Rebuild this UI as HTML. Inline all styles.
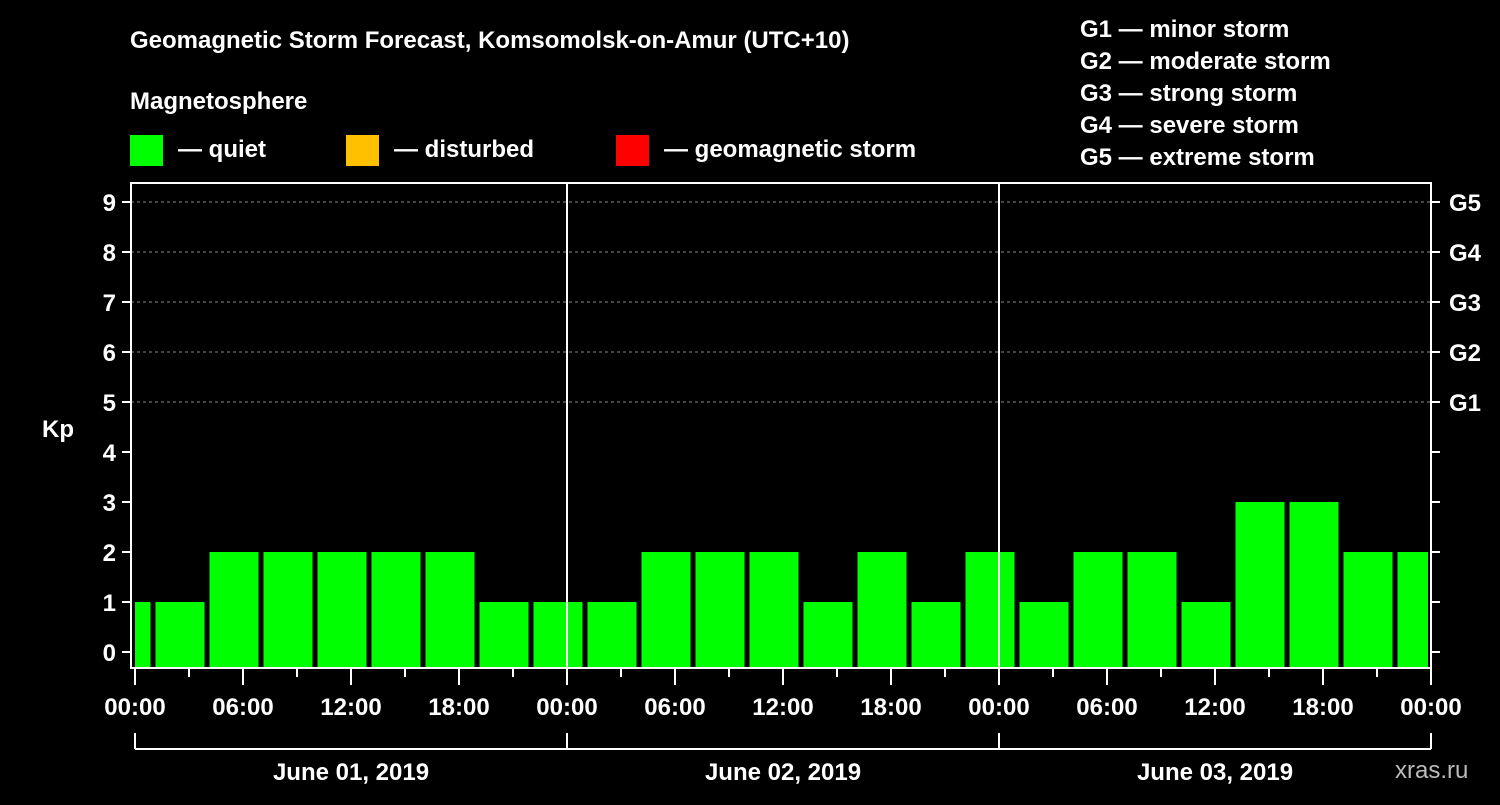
<!DOCTYPE html>
<html><head><meta charset="utf-8"><style>
body{margin:0;background:#000;width:1500px;height:800px;overflow:hidden}
svg text{font-family:"Liberation Sans",Arial,sans-serif;font-weight:bold;fill:#fff}
</style></head><body>
<svg id="c" width="1500" height="800" xmlns="http://www.w3.org/2000/svg">
<text x="130" y="48" font-size="24">Geomagnetic Storm Forecast, Komsomolsk-on-Amur (UTC+10)</text>
<text x="130" y="109" font-size="24">Magnetosphere</text>
<rect x="130" y="135" width="33" height="31" fill="#00ff00"/>
<text x="178" y="157" font-size="24">— quiet</text>
<rect x="346" y="135" width="33" height="31" fill="#ffc000"/>
<text x="394" y="157" font-size="24">— disturbed</text>
<rect x="616" y="135" width="33" height="31" fill="#ff0000"/>
<text x="664" y="157" font-size="24">— geomagnetic storm</text>
<g font-size="24">
<text x="1080" y="37">G1 — minor storm</text>
<text x="1080" y="69">G2 — moderate storm</text>
<text x="1080" y="101">G3 — strong storm</text>
<text x="1080" y="133">G4 — severe storm</text>
<text x="1080" y="165">G5 — extreme storm</text>
</g>
<text x="42" y="437" font-size="24">Kp</text>
<text x="1395" y="778" font-size="24" fill="#bbb" style="fill:#bbb;font-weight:normal">xras.ru</text>
<g id="plot"></g>
</svg>
<script>
const values=[1,1,2,2,2,2,2,1,1,1,2,2,2,1,2,1,2,1,2,2,1,3,3,2,2];
const barStartHour=-2, barHours=3, totalHours=72;
const yTicks=[0,1,2,3,4,5,6,7,8,9];
const gLabels=["G1","G2","G3","G4","G5"];
const gLevels=[5,6,7,8,9];
const xLabels=["00:00","06:00","12:00","18:00","00:00","06:00","12:00","18:00","00:00","06:00","12:00","18:00","00:00"];
const dayLabels=["June 01, 2019","June 02, 2019","June 03, 2019"];
const L=131,R=1431,T=183,B=668,X0=135;
const xs=h=>X0+h*18;
const ys=v=>652-v*50;
const NS="http://www.w3.org/2000/svg";
const g=document.getElementById('plot');
function mk(t,a){const e=document.createElementNS(NS,t);for(const k in a)e.setAttribute(k,a[k]);g.appendChild(e);return e;}
// grid
gLevels.forEach(v=>{const e=mk('line',{x1:L,x2:R,y1:ys(v),y2:ys(v),stroke:'#888','stroke-dasharray':'3,3','stroke-width':1});

});
// bars
values.forEach((v,i)=>{let s=barStartHour+i*barHours,e2=s+barHours;
let x1=Math.max(xs(s)+2.5,L+4),x2=Math.min(xs(e2)-2.5,R-3);
const r=mk('rect',{x:x1,y:ys(v),width:x2-x1,height:B-ys(v),fill:v>=5?'#ff0000':(v>=4?'#ffc000':'#00ff00')});

});
// day separators
[1,2].forEach(d=>{const e=mk('line',{x1:xs(d*24),x2:xs(d*24),y1:T,y2:B,stroke:'#fff','stroke-width':2});

});
// frame
const f=mk('rect',{x:L,y:T,width:R-L,height:B-T,fill:'none',stroke:'#fff','stroke-width':2});


// y ticks
yTicks.forEach(v=>{mk('line',{x1:L-9,x2:L,y1:ys(v),y2:ys(v),stroke:'#fff','stroke-width':2});
mk('line',{x1:R,x2:R+9,y1:ys(v),y2:ys(v),stroke:'#fff','stroke-width':2});
const t=mk('text',{x:L-15,y:ys(v)+9,'font-size':24,'text-anchor':'end'});t.textContent=v;

});
gLabels.forEach((s,i)=>{const t=mk('text',{x:R+18,y:ys(gLevels[i])+9,'font-size':24});t.textContent=s;

});
// x ticks
for(let h=0;h<=totalHours;h+=3){const major=h%6===0;
mk('line',{x1:xs(h),x2:xs(h),y1:B,y2:B+(major?17:9),stroke:'#fff','stroke-width':2});}
xLabels.forEach((s,i)=>{const t=mk('text',{x:xs(i*6),y:715,'font-size':24,'text-anchor':'middle'});t.textContent=s;

});
// bracket
mk('line',{x1:xs(0),x2:xs(totalHours),y1:749,y2:749,stroke:'#fff','stroke-width':2});
for(let d=0;d<=3;d++)mk('line',{x1:xs(d*24),x2:xs(d*24),y1:733,y2:749,stroke:'#fff','stroke-width':2});
dayLabels.forEach((s,i)=>{const t=mk('text',{x:xs(i*24+12),y:780,'font-size':24,'text-anchor':'middle'});t.textContent=s;

});
</script>
</body></html>
